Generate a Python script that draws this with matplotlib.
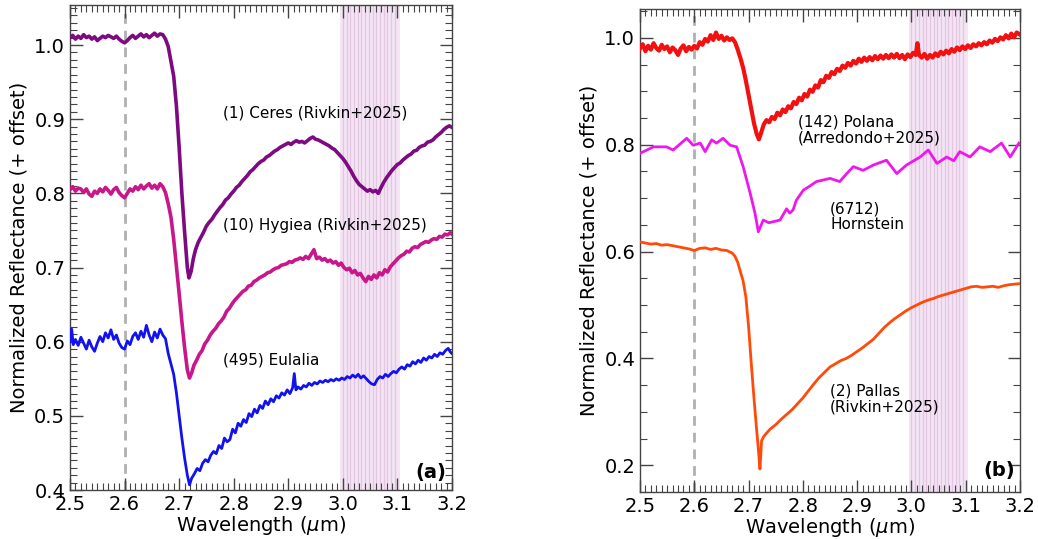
import numpy as np
import matplotlib
matplotlib.use('Agg')
import matplotlib.pyplot as plt
from matplotlib.ticker import MultipleLocator

# ---- panel (a) spectra ----
ceres_wl = [2.500, 2.505, 2.510, 2.515, 2.520, 2.525, 2.530, 2.535, 2.540, 2.545, 2.550, 2.555, 2.560, 2.565,
            2.570, 2.575, 2.580, 2.585, 2.590, 2.595, 2.600, 2.605, 2.610, 2.615, 2.620, 2.625, 2.630, 2.635,
            2.640, 2.645, 2.650, 2.655, 2.660, 2.665, 2.670, 2.675, 2.680, 2.685, 2.690, 2.695, 2.700, 2.705,
            2.710, 2.715, 2.718, 2.722, 2.726, 2.730, 2.735, 2.740, 2.745, 2.750, 2.755, 2.760, 2.765, 2.770,
            2.775, 2.780, 2.785, 2.790, 2.795, 2.800, 2.805, 2.810, 2.815, 2.820, 2.825, 2.830, 2.835, 2.840,
            2.845, 2.850, 2.855, 2.860, 2.865, 2.870, 2.875, 2.880, 2.885, 2.890, 2.895, 2.900, 2.905, 2.910,
            2.915, 2.920, 2.925, 2.930, 2.935, 2.940, 2.945, 2.950, 2.955, 2.960, 2.965, 2.970, 2.975, 2.980,
            2.985, 2.990, 2.995, 3.000, 3.005, 3.010, 3.015, 3.020, 3.025, 3.030, 3.035, 3.040, 3.045, 3.050,
            3.055, 3.060, 3.065, 3.070, 3.075, 3.080, 3.085, 3.090, 3.095, 3.100, 3.105, 3.110, 3.115, 3.120,
            3.125, 3.130, 3.135, 3.140, 3.145, 3.150, 3.155, 3.160, 3.165, 3.170, 3.175, 3.180, 3.185, 3.190,
            3.195, 3.200]
ceres_refl = [1.010, 1.013, 1.008, 1.012, 1.009, 1.014, 1.010, 1.012, 1.008, 1.011, 1.006, 1.009, 1.012, 1.010,
              1.013, 1.011, 1.009, 1.012, 1.008, 1.005, 1.003, 1.006, 1.010, 1.013, 1.009, 1.012, 1.015, 1.011,
              1.014, 1.010, 1.013, 1.016, 1.012, 1.015, 1.014, 1.008, 0.998, 0.978, 0.958, 0.918, 0.862, 0.800,
              0.748, 0.700, 0.686, 0.695, 0.712, 0.724, 0.734, 0.741, 0.748, 0.756, 0.761, 0.765, 0.771, 0.776,
              0.781, 0.785, 0.791, 0.794, 0.799, 0.803, 0.808, 0.811, 0.816, 0.820, 0.824, 0.829, 0.832, 0.836,
              0.840, 0.843, 0.845, 0.849, 0.851, 0.854, 0.857, 0.859, 0.862, 0.864, 0.866, 0.868, 0.866, 0.869,
              0.871, 0.869, 0.870, 0.868, 0.871, 0.874, 0.876, 0.873, 0.872, 0.870, 0.868, 0.866, 0.864, 0.861,
              0.859, 0.855, 0.851, 0.847, 0.842, 0.836, 0.830, 0.823, 0.817, 0.812, 0.809, 0.806, 0.803, 0.805,
              0.802, 0.804, 0.800, 0.808, 0.815, 0.821, 0.826, 0.831, 0.835, 0.839, 0.841, 0.845, 0.848, 0.851,
              0.853, 0.857, 0.858, 0.862, 0.864, 0.865, 0.869, 0.870, 0.872, 0.876, 0.879, 0.882, 0.886, 0.889,
              0.891, 0.889]

hygiea_wl = [2.500, 2.505, 2.510, 2.515, 2.520, 2.525, 2.530, 2.535, 2.540, 2.545, 2.550, 2.555, 2.560, 2.565,
             2.570, 2.575, 2.580, 2.585, 2.590, 2.595, 2.600, 2.605, 2.610, 2.615, 2.620, 2.625, 2.630, 2.635,
             2.640, 2.645, 2.650, 2.655, 2.660, 2.665, 2.670, 2.675, 2.680, 2.685, 2.690, 2.695, 2.700, 2.705,
             2.710, 2.715, 2.719, 2.723, 2.727, 2.732, 2.737, 2.742, 2.747, 2.752, 2.757, 2.762, 2.767, 2.772,
             2.777, 2.782, 2.787, 2.792, 2.797, 2.802, 2.807, 2.812, 2.817, 2.822, 2.827, 2.832, 2.837, 2.842,
             2.847, 2.852, 2.857, 2.862, 2.867, 2.872, 2.877, 2.882, 2.887, 2.892, 2.897, 2.902, 2.907, 2.912,
             2.917, 2.922, 2.927, 2.932, 2.937, 2.942, 2.947, 2.952, 2.957, 2.962, 2.967, 2.972, 2.977, 2.982,
             2.987, 2.992, 2.997, 3.002, 3.007, 3.012, 3.017, 3.022, 3.027, 3.032, 3.037, 3.042, 3.047, 3.052,
             3.057, 3.062, 3.067, 3.072, 3.077, 3.082, 3.087, 3.092, 3.097, 3.102, 3.107, 3.112, 3.117, 3.122,
             3.127, 3.132, 3.137, 3.142, 3.147, 3.152, 3.157, 3.162, 3.167, 3.172, 3.177, 3.182, 3.187, 3.192,
             3.197, 3.200]
hygiea_refl = [0.805, 0.809, 0.803, 0.807, 0.806, 0.801, 0.806, 0.799, 0.796, 0.803, 0.800, 0.806, 0.802, 0.808,
               0.804, 0.799, 0.805, 0.808, 0.801, 0.797, 0.794, 0.800, 0.806, 0.803, 0.809, 0.805, 0.811, 0.806,
               0.810, 0.813, 0.807, 0.811, 0.806, 0.813, 0.809, 0.801, 0.786, 0.768, 0.738, 0.702, 0.665, 0.627,
               0.592, 0.562, 0.551, 0.558, 0.568, 0.575, 0.583, 0.588, 0.597, 0.602, 0.609, 0.614, 0.618, 0.624,
               0.628, 0.633, 0.641, 0.645, 0.651, 0.656, 0.660, 0.664, 0.668, 0.670, 0.675, 0.676, 0.681, 0.683,
               0.686, 0.688, 0.690, 0.693, 0.694, 0.697, 0.699, 0.700, 0.703, 0.704, 0.705, 0.708, 0.707, 0.710,
               0.711, 0.713, 0.711, 0.715, 0.712, 0.718, 0.724, 0.712, 0.714, 0.710, 0.712, 0.708, 0.710, 0.706,
               0.708, 0.703, 0.706, 0.700, 0.697, 0.699, 0.693, 0.696, 0.690, 0.692, 0.686, 0.681, 0.688, 0.684,
               0.690, 0.686, 0.693, 0.690, 0.697, 0.694, 0.701, 0.705, 0.709, 0.713, 0.716, 0.718, 0.722, 0.721,
               0.726, 0.728, 0.727, 0.731, 0.733, 0.735, 0.734, 0.737, 0.739, 0.738, 0.742, 0.741, 0.745, 0.744,
               0.747, 0.745]

eulalia_wl = [2.500, 2.503, 2.506, 2.510, 2.515, 2.520, 2.525, 2.530, 2.535, 2.540, 2.545, 2.550, 2.555, 2.560,
              2.565, 2.570, 2.575, 2.580, 2.585, 2.590, 2.595, 2.600, 2.605, 2.610, 2.615, 2.620, 2.625, 2.630,
              2.635, 2.640, 2.645, 2.650, 2.655, 2.660, 2.665, 2.670, 2.675, 2.680, 2.685, 2.690, 2.695, 2.700,
              2.705, 2.710, 2.715, 2.719, 2.723, 2.728, 2.733, 2.738, 2.743, 2.748, 2.753, 2.758, 2.763, 2.768,
              2.773, 2.778, 2.783, 2.788, 2.793, 2.798, 2.803, 2.808, 2.813, 2.818, 2.823, 2.828, 2.833, 2.838,
              2.843, 2.848, 2.853, 2.858, 2.863, 2.868, 2.873, 2.878, 2.883, 2.888, 2.893, 2.898, 2.903, 2.908,
              2.911, 2.914, 2.918, 2.923, 2.928, 2.933, 2.938, 2.943, 2.948, 2.953, 2.958, 2.963, 2.968, 2.973,
              2.978, 2.983, 2.988, 2.993, 2.998, 3.003, 3.008, 3.013, 3.018, 3.023, 3.028, 3.033, 3.038, 3.043,
              3.048, 3.053, 3.058, 3.063, 3.068, 3.073, 3.078, 3.083, 3.088, 3.093, 3.098, 3.103, 3.108, 3.113,
              3.118, 3.123, 3.128, 3.133, 3.138, 3.143, 3.148, 3.153, 3.158, 3.163, 3.168, 3.173, 3.178, 3.183,
              3.188, 3.193, 3.197, 3.200]
eulalia_refl = [0.600, 0.617, 0.596, 0.603, 0.595, 0.606, 0.598, 0.590, 0.602, 0.593, 0.587, 0.598, 0.607, 0.600,
                0.612, 0.605, 0.616, 0.603, 0.609, 0.598, 0.592, 0.590, 0.601, 0.596, 0.607, 0.612, 0.603, 0.614,
                0.606, 0.622, 0.609, 0.600, 0.613, 0.605, 0.617, 0.609, 0.604, 0.584, 0.570, 0.556, 0.531, 0.500,
                0.470, 0.443, 0.420, 0.407, 0.416, 0.422, 0.429, 0.426, 0.436, 0.441, 0.438, 0.447, 0.452, 0.449,
                0.460, 0.456, 0.470, 0.465, 0.468, 0.482, 0.477, 0.490, 0.486, 0.495, 0.491, 0.503, 0.499, 0.509,
                0.504, 0.514, 0.510, 0.520, 0.515, 0.523, 0.519, 0.527, 0.524, 0.531, 0.528, 0.535, 0.530, 0.538,
                0.557, 0.535, 0.539, 0.536, 0.541, 0.539, 0.544, 0.541, 0.545, 0.543, 0.547, 0.545, 0.548, 0.546,
                0.549, 0.547, 0.550, 0.548, 0.551, 0.549, 0.553, 0.551, 0.555, 0.552, 0.556, 0.551, 0.554, 0.550,
                0.546, 0.543, 0.542, 0.549, 0.553, 0.551, 0.556, 0.553, 0.557, 0.560, 0.558, 0.563, 0.566, 0.563,
                0.569, 0.567, 0.573, 0.570, 0.575, 0.572, 0.578, 0.575, 0.580, 0.578, 0.583, 0.580, 0.585, 0.583,
                0.588, 0.591, 0.586, 0.584]

# ---- panel (b) spectra ----
polana_wl = [2.500, 2.505, 2.510, 2.515, 2.520, 2.525, 2.530, 2.535, 2.540, 2.545, 2.550, 2.555, 2.560, 2.565,
             2.570, 2.575, 2.580, 2.585, 2.590, 2.595, 2.600, 2.605, 2.610, 2.615, 2.620, 2.625, 2.630, 2.635,
             2.640, 2.645, 2.650, 2.655, 2.660, 2.665, 2.670, 2.675, 2.680, 2.685, 2.690, 2.695, 2.700, 2.705,
             2.710, 2.715, 2.719, 2.723, 2.728, 2.733, 2.738, 2.743, 2.748, 2.753, 2.758, 2.763, 2.768, 2.773,
             2.778, 2.783, 2.788, 2.793, 2.798, 2.803, 2.808, 2.813, 2.818, 2.823, 2.828, 2.833, 2.838, 2.843,
             2.848, 2.853, 2.858, 2.863, 2.868, 2.873, 2.878, 2.883, 2.888, 2.893, 2.898, 2.903, 2.908, 2.913,
             2.918, 2.923, 2.928, 2.933, 2.938, 2.943, 2.948, 2.953, 2.958, 2.963, 2.968, 2.973, 2.978, 2.983,
             2.988, 2.993, 2.998, 3.003, 3.008, 3.011, 3.014, 3.019, 3.024, 3.029, 3.034, 3.039, 3.044, 3.049,
             3.054, 3.059, 3.064, 3.069, 3.074, 3.079, 3.084, 3.089, 3.094, 3.099, 3.104, 3.109, 3.114, 3.119,
             3.124, 3.129, 3.134, 3.139, 3.144, 3.149, 3.154, 3.159, 3.164, 3.169, 3.174, 3.179, 3.184, 3.189,
             3.194, 3.200]
polana_refl = [0.980, 0.988, 0.975, 0.985, 0.978, 0.990, 0.981, 0.976, 0.987, 0.979, 0.984, 0.973, 0.982, 0.977,
               0.968, 0.980, 0.986, 0.975, 0.983, 0.978, 0.985, 0.980, 0.992, 0.987, 0.998, 0.993, 1.005, 0.996,
               1.010, 0.998, 1.004, 0.995, 1.001, 0.996, 0.999, 0.992, 0.978, 0.962, 0.944, 0.920, 0.893, 0.866,
               0.840, 0.820, 0.810, 0.822, 0.838, 0.846, 0.842, 0.852, 0.848, 0.860, 0.855, 0.866, 0.861, 0.872,
               0.868, 0.880, 0.876, 0.888, 0.883, 0.895, 0.890, 0.903, 0.899, 0.911, 0.907, 0.921, 0.917, 0.929,
               0.925, 0.936, 0.932, 0.942, 0.938, 0.948, 0.944, 0.953, 0.948, 0.957, 0.952, 0.961, 0.955, 0.963,
               0.957, 0.964, 0.958, 0.966, 0.960, 0.967, 0.961, 0.968, 0.962, 0.969, 0.963, 0.970, 0.962, 0.968,
               0.960, 0.969, 0.964, 0.972, 0.968, 0.990, 0.968, 0.963, 0.970, 0.961, 0.968, 0.963, 0.971, 0.966,
               0.974, 0.969, 0.976, 0.971, 0.979, 0.974, 0.982, 0.977, 0.984, 0.979, 0.986, 0.981, 0.988, 0.984,
               0.990, 0.986, 0.992, 0.988, 0.995, 0.991, 0.998, 0.994, 1.001, 0.997, 1.005, 0.999, 1.008, 1.001,
               1.010, 1.006]

hornstein_wl = [2.500, 2.525, 2.549, 2.561, 2.586, 2.598, 2.611, 2.620, 2.632, 2.641, 2.653, 2.666, 2.678, 2.690,
                2.703, 2.712, 2.718, 2.727, 2.737, 2.746, 2.758, 2.770, 2.776, 2.782, 2.788, 2.801, 2.812, 2.825,
                2.838, 2.850, 2.868, 2.880, 2.893, 2.911, 2.930, 2.954, 2.973, 2.991, 3.016, 3.031, 3.047, 3.065,
                3.078, 3.089, 3.108, 3.126, 3.145, 3.166, 3.182, 3.198]
hornstein_refl = [0.784, 0.796, 0.796, 0.790, 0.812, 0.799, 0.803, 0.787, 0.809, 0.803, 0.812, 0.799, 0.796, 0.759,
                  0.709, 0.671, 0.637, 0.659, 0.654, 0.656, 0.659, 0.680, 0.672, 0.678, 0.696, 0.715, 0.722, 0.731,
                  0.734, 0.737, 0.731, 0.745, 0.759, 0.752, 0.762, 0.771, 0.746, 0.762, 0.777, 0.790, 0.765, 0.777,
                  0.770, 0.787, 0.777, 0.796, 0.787, 0.803, 0.777, 0.803]

pallas_wl = [2.500, 2.510, 2.520, 2.530, 2.540, 2.550, 2.560, 2.570, 2.580, 2.590, 2.600, 2.610, 2.620, 2.630,
             2.640, 2.650, 2.660, 2.670, 2.675, 2.680, 2.685, 2.690, 2.695, 2.700, 2.705, 2.710, 2.715, 2.718,
             2.721, 2.724, 2.728, 2.733, 2.740, 2.750, 2.760, 2.770, 2.780, 2.790, 2.800, 2.810, 2.820, 2.830,
             2.840, 2.850, 2.860, 2.870, 2.880, 2.890, 2.900, 2.910, 2.920, 2.930, 2.940, 2.950, 2.960, 2.970,
             2.980, 2.990, 3.000, 3.010, 3.020, 3.030, 3.040, 3.050, 3.060, 3.070, 3.080, 3.090, 3.100, 3.110,
             3.120, 3.130, 3.140, 3.150, 3.160, 3.170, 3.180, 3.190, 3.200]
pallas_refl = [0.618, 0.616, 0.614, 0.615, 0.612, 0.613, 0.611, 0.609, 0.607, 0.605, 0.602, 0.606, 0.607, 0.604,
               0.606, 0.603, 0.602, 0.597, 0.591, 0.580, 0.562, 0.545, 0.515, 0.460, 0.390, 0.325, 0.265, 0.230,
               0.193, 0.246, 0.254, 0.260, 0.268, 0.276, 0.286, 0.295, 0.304, 0.315, 0.326, 0.339, 0.352, 0.364,
               0.374, 0.384, 0.390, 0.396, 0.400, 0.406, 0.413, 0.420, 0.428, 0.436, 0.447, 0.458, 0.467, 0.475,
               0.482, 0.489, 0.495, 0.500, 0.505, 0.509, 0.512, 0.516, 0.519, 0.522, 0.525, 0.528, 0.531, 0.534,
               0.535, 0.533, 0.534, 0.535, 0.533, 0.536, 0.538, 0.539, 0.540]

telluric_lo, telluric_hi = 2.995, 3.105


def style_axes(ax, ymin, ymax, yminor):
    ax.set_xlim(2.5, 3.2)
    ax.set_ylim(ymin, ymax)
    ax.xaxis.set_major_locator(MultipleLocator(0.1))
    ax.xaxis.set_minor_locator(MultipleLocator(0.01))
    ax.yaxis.set_minor_locator(MultipleLocator(yminor))
    ax.tick_params(which='both', direction='in', top=True, right=True, color='#444444', labelsize=14)
    ax.tick_params(which='major', length=9, width=1.0)
    ax.tick_params(which='minor', length=5, width=0.8)
    for sp in ax.spines.values():
        sp.set_color('#444444')
        sp.set_linewidth(1.0)
    ax.set_xlabel(r'Wavelength ($\mu$m)', fontsize=14, labelpad=0)
    ax.set_ylabel('Normalized Reflectance (+ offset)', fontsize=14)
    # telluric region
    ax.axvspan(telluric_lo, telluric_hi, color='#f4e4f4', lw=0, zorder=0)
    for xv in np.arange(3.0, 3.1001, 0.0068):
        ax.axvline(xv, color='#e2c6e2', lw=0.9, zorder=0.5)
    ax.axvline(2.6, color='#b0b0b0', lw=2, ls=(0, (3.5, 2.5)), zorder=1)


fig = plt.figure(figsize=(10.38, 5.39), dpi=100)
ax1 = fig.add_axes([70 / 1038, 49 / 539, 382 / 1038, 485 / 539])
ax2 = fig.add_axes([640 / 1038, 47 / 539, 380 / 1038, 483 / 539])

style_axes(ax1, 0.4, 1.054, 0.01)
ax1.yaxis.set_major_locator(MultipleLocator(0.1))
ax1.plot(ceres_wl, ceres_refl, color='#7d0a80', lw=2.6, zorder=3)
ax1.plot(hygiea_wl, hygiea_refl, color='#c8178a', lw=2.6, zorder=3)
ax1.plot(eulalia_wl, eulalia_refl, color='#1212ee', lw=2.0, zorder=3)
ax1.text(2.780, 0.908, '(1) Ceres (Rivkin+2025)', fontsize=11, va='center')
ax1.text(2.780, 0.757, '(10) Hygiea (Rivkin+2025)', fontsize=11, va='center')
ax1.text(2.780, 0.575, '(495) Eulalia', fontsize=11, va='center')
ax1.text(3.19, 0.424, '(a)', fontsize=14, fontweight='bold', ha='right', va='center')

style_axes(ax2, 0.15, 1.054, 0.05)
ax2.yaxis.set_major_locator(MultipleLocator(0.2))
ax2.plot(polana_wl, polana_refl, color='#f21010', lw=3.0, zorder=3)
ax2.plot(hornstein_wl, hornstein_refl, color='#ee18ee', lw=2.0, zorder=3)
ax2.plot(pallas_wl, pallas_refl, color='#ff4a0a', lw=2.0, zorder=3)
ax2.text(2.791, 0.827, '(142) Polana\n(Arredondo+2025)', fontsize=11, va='center', linespacing=1.05)
ax2.text(2.850, 0.666, '(6712)\nHornstein', fontsize=11, va='center', linespacing=1.05)
ax2.text(2.850, 0.324, '(2) Pallas\n(Rivkin+2025)', fontsize=11, va='center', linespacing=1.05)
ax2.text(3.19, 0.19, '(b)', fontsize=14, fontweight='bold', ha='right', va='center')

fig.savefig('out.png', dpi=100)
